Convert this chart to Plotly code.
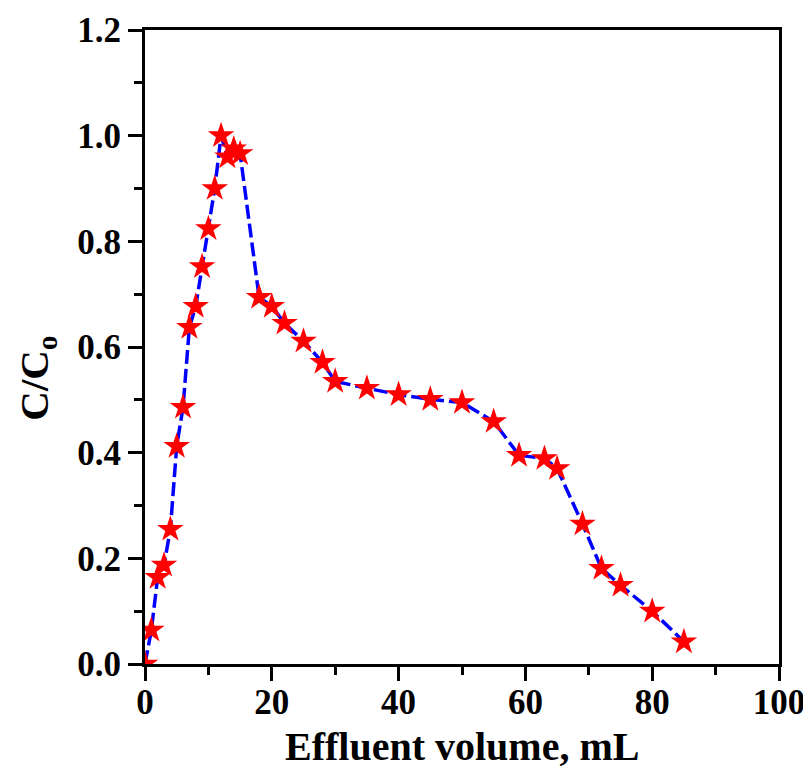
import plotly.graph_objects as go

volume_ml = [0, 1, 2, 3, 4, 5, 6, 7, 8, 9, 10, 11, 12, 13, 14, 15, 18, 20, 22, 25, 28, 30,
             35, 40, 45, 50, 55, 59, 63, 65, 69, 72, 75, 80, 85]
c_ratio = [0.0, 0.064, 0.164, 0.187, 0.255, 0.412, 0.486, 0.637, 0.677, 0.752, 0.824, 0.90,
           1.0, 0.96, 0.975, 0.966, 0.694, 0.677, 0.645, 0.611, 0.571, 0.535,
           0.522, 0.51, 0.501, 0.495, 0.459, 0.395, 0.389, 0.37, 0.265, 0.181, 0.149, 0.10, 0.042]

x_ticks = [0, 20, 40, 60, 80, 100]
y_ticks = [0.0, 0.2, 0.4, 0.6, 0.8, 1.0, 1.2]
x_title = "<b>Effluent volume, mL</b>"
y_title = "<b>C/C<sub>o</sub></b>"

fig = go.Figure()
fig.add_trace(go.Scatter(
    x=volume_ml, y=c_ratio, mode="lines+markers",
    line=dict(color="#0000ff", width=3.5, dash="14px,5px"),
    marker=dict(symbol="star", size=20, color="#ff0000", line=dict(width=0)),
    showlegend=False,
))

font_family = "Liberation Serif"
# page body has an 8px default margin; margins compensate so the plot frame
# lands at the reference's pixel positions
fig.update_layout(
    width=811, height=769,
    margin=dict(l=137, r=40, t=22, b=113),
    plot_bgcolor="white", paper_bgcolor="white",
    font=dict(family=font_family, color="black"),
)
axis_common = dict(
    showgrid=False, zeroline=False, showline=True, linecolor="black", linewidth=3,
    mirror=True, ticks="outside", ticklen=14, tickwidth=3, tickcolor="black",
    tickfont=dict(family=font_family, size=35, color="black", weight="bold"),
    automargin=False,
)
fig.update_xaxes(
    range=[0, 100], tickvals=x_ticks, ticktext=[str(v) for v in x_ticks],
    minor=dict(dtick=10, ticks="outside", ticklen=8, tickwidth=3, tickcolor="black"),
    ticklabelstandoff=-9,
    **axis_common,
)
fig.update_yaxes(
    range=[0, 1.2], tickvals=y_ticks, ticktext=[f"{v:.1f}" for v in y_ticks],
    minor=dict(dtick=0.1, ticks="outside", ticklen=8, tickwidth=3, tickcolor="black"),
    **axis_common,
)
fig.add_annotation(
    text=x_title, xref="paper", yref="paper", x=0.5, y=0, yanchor="middle",
    yshift=-82, showarrow=False, font=dict(family=font_family, size=40, color="black"),
)
fig.add_annotation(
    text=y_title, xref="paper", yref="paper", x=0, y=0.45, xanchor="center",
    xshift=-108, textangle=-90, showarrow=False,
    font=dict(family=font_family, size=41, color="black"),
)

fig.write_html("out.html")
